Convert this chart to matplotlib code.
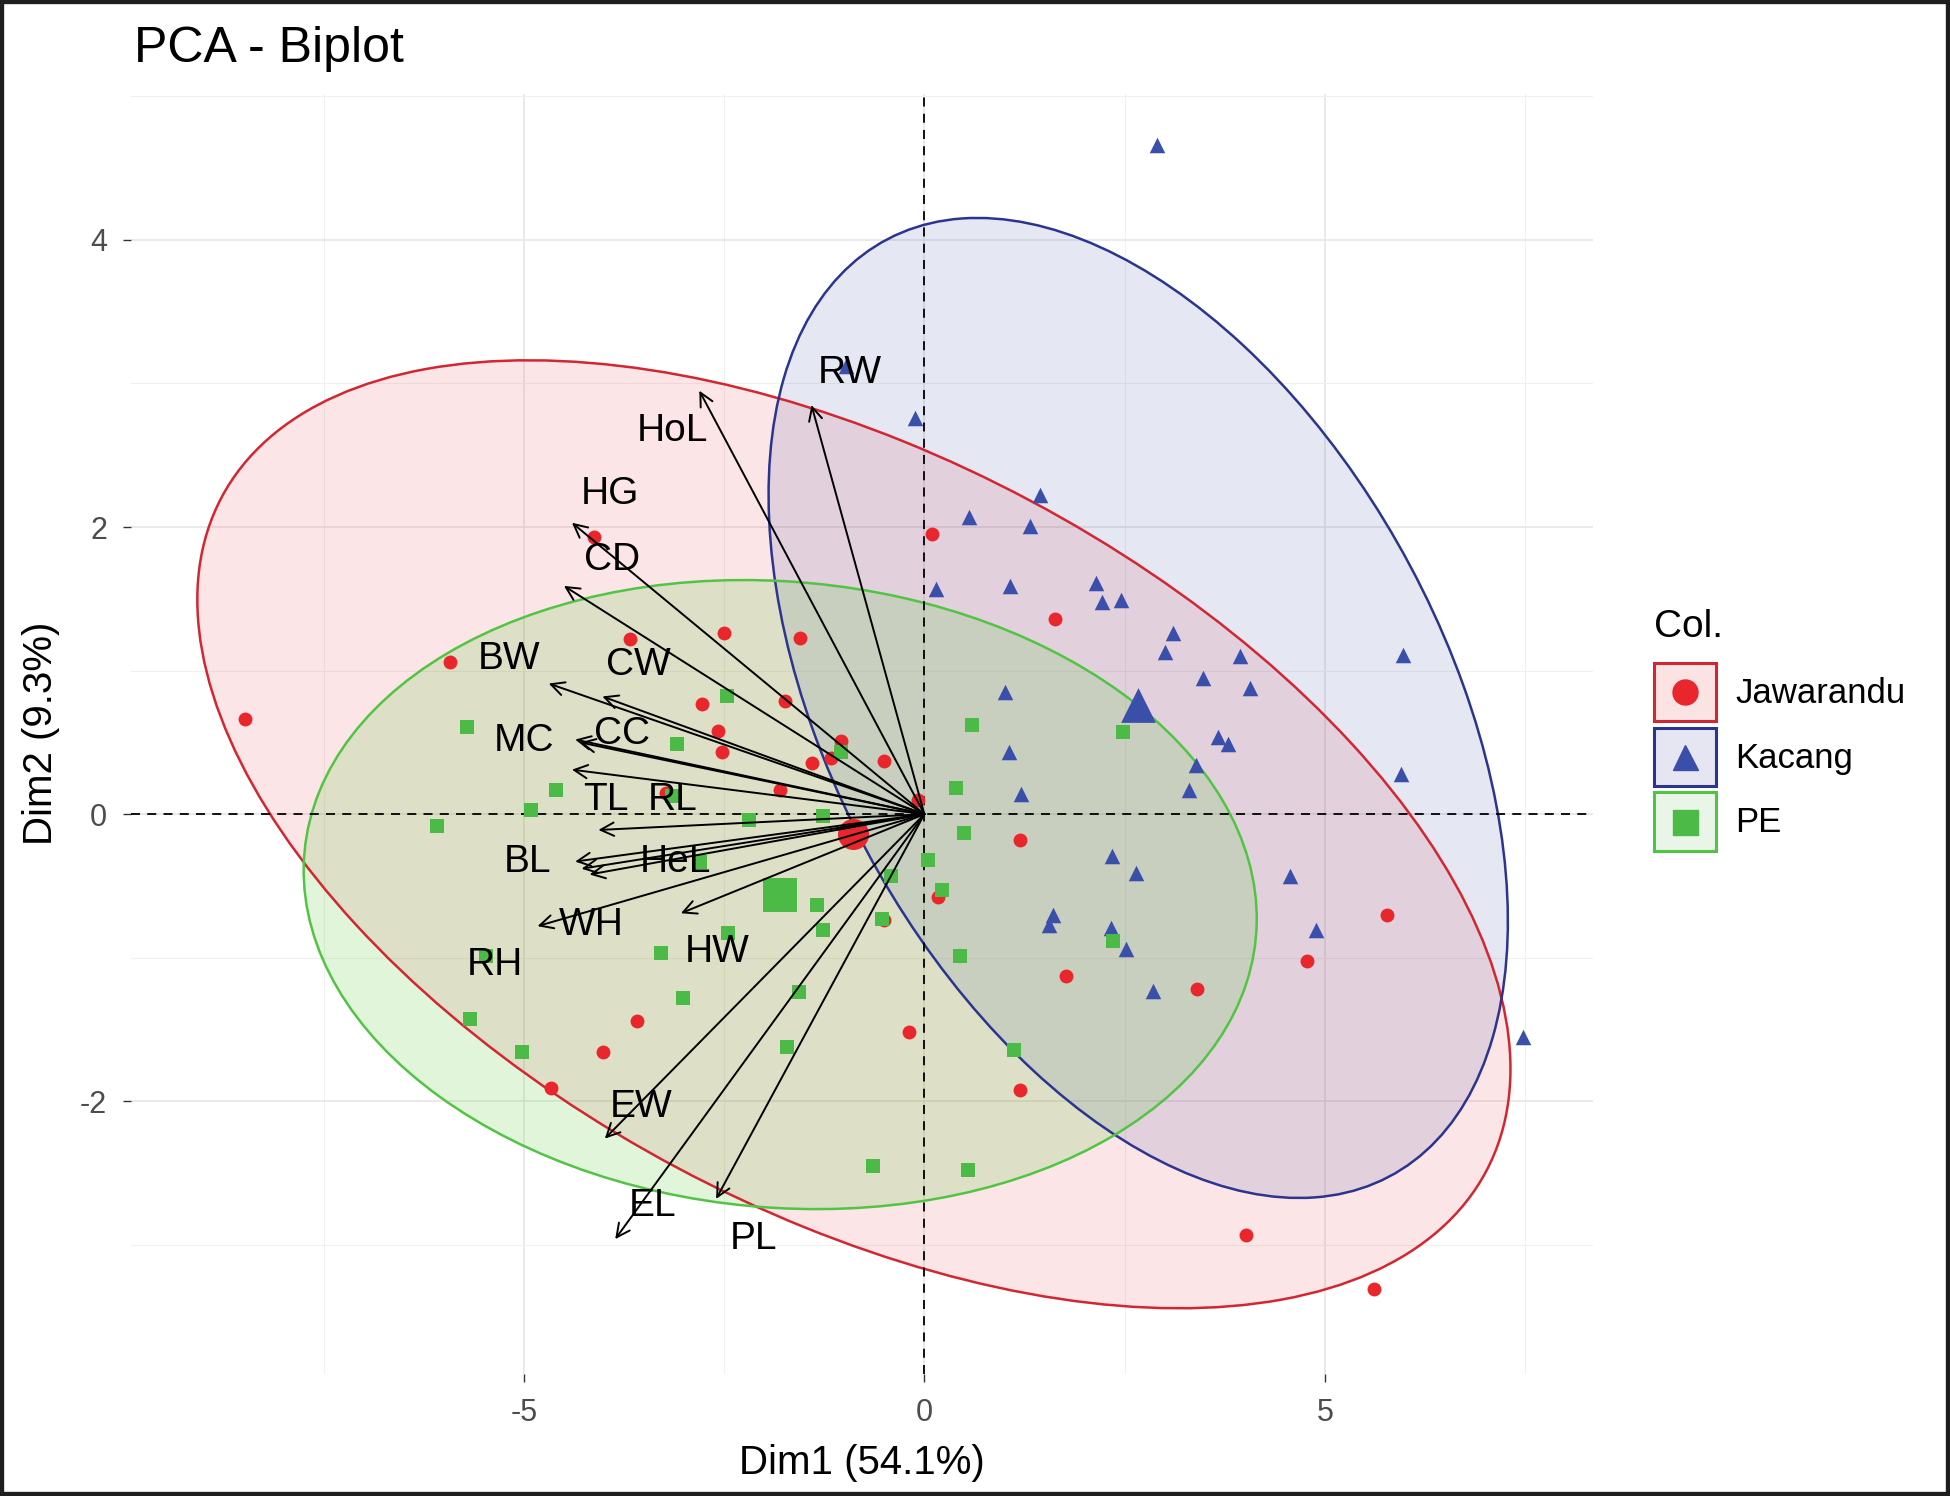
import numpy as np
import matplotlib
matplotlib.use("Agg")
import matplotlib.pyplot as plt
from matplotlib.patches import Ellipse, Rectangle
from matplotlib.lines import Line2D
from matplotlib.legend_handler import HandlerBase

plt.rcParams["font.family"] = ["Liberation Sans", "DejaVu Sans"]

# Individuals (Dim1, Dim2) per group
jaw_x = [-8.48, -5.92, -4.13, -3.68, -2.50, -2.78, -2.58, -2.53, -1.74, -1.55, -1.80, -1.40,
         -1.16, -1.04, -0.51, -0.08, 0.09, 1.63, 1.20, 0.17, -3.22, -3.59, -4.01, -4.66,
         -0.19, 1.20, 1.77, 3.40, 4.78, 5.78, 4.01, 5.62, -0.50]
jaw_y = [0.66, 1.06, 1.93, 1.22, 1.26, 0.77, 0.58, 0.43, 0.79, 1.23, 0.17, 0.36,
         0.39, 0.51, 0.37, 0.10, 1.95, 1.36, -0.18, -0.58, 0.15, -1.44, -1.66, -1.91,
         -1.52, -1.92, -1.13, -1.22, -1.02, -0.70, -2.93, -3.31, -0.74]

kac_x = [2.90, -0.98, -0.12, 1.44, 0.56, 1.32, 0.14, 1.07, 2.14, 2.22, 2.45, 3.11, 3.00,
         3.94, 5.98, 3.48, 4.07, 1.01, 3.66, 3.79, 3.39, 3.31, 1.06, 1.21, 5.95, 4.57,
         2.34, 2.64, 1.61, 1.55, 2.33, 2.52, 2.86, 4.89, 7.48]
kac_y = [4.66, 3.12, 2.76, 2.22, 2.07, 2.01, 1.57, 1.59, 1.61, 1.48, 1.49, 1.26, 1.13,
         1.10, 1.11, 0.95, 0.88, 0.85, 0.54, 0.49, 0.34, 0.17, 0.43, 0.14, 0.28, -0.43,
         -0.29, -0.41, -0.70, -0.77, -0.79, -0.94, -1.23, -0.81, -1.55]

pe_x = [-5.71, -4.60, -4.91, -6.09, -3.09, -2.47, -3.15, -2.19, -1.26, -1.04, -1.34, -1.26,
        -0.53, -0.42, 0.05, 0.22, 0.40, 0.50, 0.59, 2.48, 0.45, 2.36, 1.12, -2.45, -3.29,
        -3.01, -1.57, -1.72, -5.47, -5.67, -5.03, -0.64, 0.54, -2.80]
pe_y = [0.61, 0.17, 0.03, -0.08, 0.49, 0.82, 0.13, -0.04, -0.01, 0.43, -0.63, -0.81,
        -0.73, -0.43, -0.32, -0.53, 0.18, -0.13, 0.62, 0.57, -0.99, -0.88, -1.64, -0.83, -0.97,
        -1.28, -1.24, -1.62, -0.99, -1.43, -1.66, -2.45, -2.48, -0.33]

# Group means
mean_x = [-0.89, 2.67, -1.80]
mean_y = [-0.14, 0.76, -0.56]

# Concentration ellipses: centre, var x, var y, cov xy
ell_cx = [-0.88, 2.67, -1.80]
ell_cy = [-0.14, 0.74, -0.56]
ell_sxx = [67.2, 21.3, 35.4]
ell_syy = [10.9, 11.65, 4.80]
ell_sxy = [-13.4, -6.85, -1.0]

# Variable arrows and their labels
var_names = ["HoL", "RW", "HG", "CD", "BW", "CW", "MC", "CC", "TL", "RL",
             "BL", "HeL", "RH", "WH", "HW", "EW", "EL", "PL"]
var_x = [-2.81, -1.41, -4.40, -4.50, -4.69, -4.02, -4.36, -4.30, -4.40, -4.07,
         -4.36, -4.28, -4.18, -4.83, -3.04, -3.99, -3.86, -2.60]
var_y = [2.95, 2.85, 2.03, 1.59, 0.91, 0.82, 0.52, 0.50, 0.31, -0.11,
         -0.33, -0.38, -0.42, -0.78, -0.69, -2.26, -2.96, -2.68]
lab_x = [-3.14, -0.93, -3.93, -3.90, -5.19, -3.57, -5.00, -3.77, -3.98, -3.14,
         -4.95, -3.11, -5.36, -4.16, -2.59, -3.54, -3.39, -2.13]
lab_y = [2.67, 3.07, 2.23, 1.77, 1.08, 1.04, 0.51, 0.56, 0.10, 0.10,
         -0.33, -0.33, -1.05, -0.77, -0.96, -2.04, -2.73, -2.96]

groups = ["Jawarandu", "Kacang", "PE"]
pt_colors = ["#E8262B", "#3A4FAA", "#4CBA47"]
edge_colors = ["#D22630", "#2B3590", "#52C444"]
fill_colors = ["#E41A1C", "#2D3CA0", "#64CD46"]
fill_alpha = [0.11, 0.12, 0.2]
markers = ["o", "^", "s"]

fig = plt.figure(figsize=(19.5, 14.96), dpi=100)
ax = fig.add_axes([0.067, 0.0815, 0.750, 0.856])

# grid
ax.set_xticks([-5, 0, 5])
ax.set_yticks([-2, 0, 2, 4])
ax.set_xticks([-7.5, -2.5, 2.5, 7.5], minor=True)
ax.set_yticks([-3, -1, 1, 3, 5], minor=True)
ax.grid(which="major", color="#E6E6E6", lw=1.2, zorder=0)
ax.grid(which="minor", color="#F0F0F0", lw=0.8, zorder=0)
ax.set_axisbelow(True)
for s in ax.spines.values():
    s.set_visible(False)

# ellipses
for i in range(3):
    S = np.array([[ell_sxx[i], ell_sxy[i]], [ell_sxy[i], ell_syy[i]]])
    vals, vecs = np.linalg.eigh(S)
    ang = np.degrees(np.arctan2(vecs[1, 1], vecs[0, 1]))
    e = Ellipse((ell_cx[i], ell_cy[i]), 2 * np.sqrt(vals[1]), 2 * np.sqrt(vals[0]),
                angle=ang, facecolor=fill_colors[i], alpha=fill_alpha[i], edgecolor="none",
                zorder=1)
    ax.add_patch(e)
    e2 = Ellipse((ell_cx[i], ell_cy[i]), 2 * np.sqrt(vals[1]), 2 * np.sqrt(vals[0]),
                 angle=ang, facecolor="none", edgecolor=edge_colors[i], lw=1.8, zorder=2)
    ax.add_patch(e2)

# reference lines
ax.axhline(0, color="black", ls=(0, (5, 4)), lw=1.3, zorder=3)
ax.axvline(0, color="black", ls=(0, (5, 4)), lw=1.3, zorder=3)

# individuals
xs = [jaw_x, kac_x, pe_x]
ys = [jaw_y, kac_y, pe_y]
sizes = [100, 125, 115]
for i in range(3):
    ax.scatter(xs[i], ys[i], marker=markers[i], s=sizes[i], color=pt_colors[i],
               linewidths=0, zorder=4)
    ax.scatter(mean_x[i], mean_y[i], marker=markers[i], s=sizes[i] * 5,
               color=pt_colors[i], linewidths=0, zorder=4)

# variable arrows
for name, vx, vy, tx, ty in zip(var_names, var_x, var_y, lab_x, lab_y):
    ax.annotate("", xy=(vx, vy), xytext=(0, 0),
                arrowprops=dict(arrowstyle="->", color="black", lw=1.4,
                                mutation_scale=24, shrinkA=0, shrinkB=0), zorder=5)
    ax.text(tx, ty, name, fontsize=28, ha="center", va="center", color="black", zorder=6)

ax.set_xlim(-9.91, 8.35)
ax.set_ylim(-3.90, 5.02)
ax.tick_params(axis="both", which="major", labelsize=22, labelcolor="#4D4D4D",
               color="#333333", length=6, width=1)
ax.tick_params(axis="y", which="major", pad=11)
ax.tick_params(axis="x", which="major", pad=11)
ax.tick_params(axis="both", which="minor", length=0)
ax.set_xticklabels(["-5", "0", "5"])
ax.set_yticklabels(["-2", "0", "2", "4"])
ax.set_xlabel("Dim1 (54.1%)", fontsize=29, labelpad=12)
ax.set_ylabel("Dim2 (9.3%)", fontsize=29, labelpad=14)

fig.text(0.0687, 0.9586, "PCA - Biplot", fontsize=36, ha="left", va="baseline")


# legend keys: framed box with the group marker
class BoxKey(HandlerBase):
    def __init__(self, fill, edge, marker, color, ms):
        super().__init__()
        self.fill, self.edge, self.marker, self.color, self.ms = fill, edge, marker, color, ms

    def create_artists(self, legend, orig_handle, xdescent, ydescent, width, height,
                       fontsize, trans):
        box = Rectangle((-xdescent, -ydescent), width, height, facecolor=self.fill,
                        edgecolor=self.edge, lw=2.2, transform=trans)
        pt = Line2D([-xdescent + width / 2], [-ydescent + height / 2], marker=self.marker,
                    ms=self.ms, color=self.color, ls="none", transform=trans)
        return [box, pt]


handles = [Line2D([], []) for _ in groups]
key_fills = ["#FBE3E4", "#E6E6F3", "#E9F5E6"]
hmap = {h: BoxKey(key_fills[i], edge_colors[i], markers[i], pt_colors[i], 18)
        for i, h in enumerate(handles)}
fig.text(0.848, 0.5744, "Col.", fontsize=28, ha="left", va="baseline")
leg = ax.legend(handles, groups, handler_map=hmap, loc="upper left",
                bbox_to_anchor=(0.848, 0.557), bbox_transform=fig.transFigure,
                frameon=False, fontsize=25, handlelength=1.8,
                handleheight=2.21, handletextpad=0.55, labelspacing=0.185,
                borderpad=0, borderaxespad=0)

# dark frame around the image
fig.patches.append(Rectangle((0, 0), 1, 1, transform=fig.transFigure, fill=False,
                             edgecolor="#1E1E1E", lw=6, zorder=10))

fig.savefig("out.png", dpi=100)
